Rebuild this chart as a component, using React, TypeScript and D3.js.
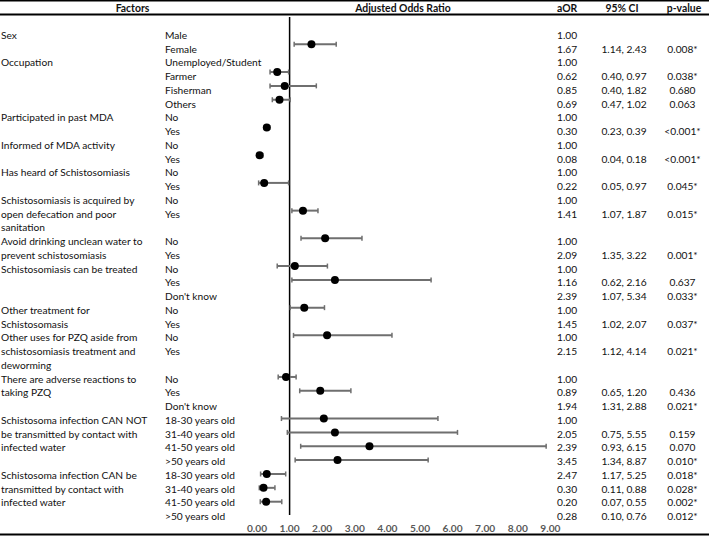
import React from "react";
import * as d3 from "d3";

const levels = ["Male","Female","Unemployed/Student","Farmer","Fisherman","Others","No","Yes","No","Yes","No","Yes","No","Yes","","No","Yes","No","Yes","Don't know","No","Yes","No","Yes","","No","Yes","Don't know","18-30 years old","31-40 years old","41-50 years old",">50 years old","18-30 years old","31-40 years old","41-50 years old",">50 years old"];

const factorRows = [0, 2, 6, 8, 10, 12, 13, 14, 15, 16, 17, 20, 21, 22, 23, 24, 25, 26, 28, 29, 30, 32, 33, 34];
const factorTexts = ["Sex","Occupation","Participated in past MDA","Informed of MDA activity","Has heard of Schistosomiasis","Schistosomiasis is acquired by","open defecation and poor","sanitation","Avoid drinking unclean water to","prevent schistosomiasis","Schistosomiasis can be treated","Other treatment for","Schistosomasis","Other uses for PZQ aside from","schistosomiasis treatment and","deworming","There are adverse reactions to","taking PZQ","Schistosoma infection CAN NOT","be transmitted by contact with","infected water","Schistosoma infection CAN be","transmitted by contact with","infected water"];

const aOR = ["1.00","1.67","1.00","0.62","0.85","0.69","1.00","0.30","1.00","0.08","1.00","0.22","1.00","1.41","","1.00","2.09","1.00","1.16","2.39","1.00","1.45","1.00","2.15","","1.00","0.89","1.94","1.00","2.05","2.39","3.45","2.47","0.30","0.20","0.28"];
const ciLow = [null,1.14,null,0.40,0.40,0.47,null,0.23,null,0.04,null,0.05,null,1.07,null,null,1.35,null,0.62,1.07,null,1.02,null,1.12,null,null,0.65,1.31,null,0.75,0.93,1.34,1.17,0.11,0.07,0.10];
const ciHigh = [null,2.43,null,0.97,1.82,1.02,null,0.39,null,0.18,null,0.97,null,1.87,null,null,3.22,null,2.16,5.34,null,2.07,null,4.14,null,null,1.20,2.88,null,5.55,6.15,8.87,5.25,0.88,0.55,0.76];
const pValues = ["","0.008*","","0.038*","0.680","0.063","","<0.001*","","<0.001*","","0.045*","","0.015*","","","0.001*","","0.637","0.033*","","0.037*","","0.021*","","","0.436","0.021*","","0.159","0.070","0.010*","0.018*","0.028*","0.002*","0.012*"];
const headers = ["Factors", "Adjusted Odds Ratio", "aOR", "95% CI", "p-value"];
const xTicks = [0, 1, 2, 3, 4, 5, 6, 7, 8, 9];
const refValue = 1;
const skippedPlotRows = [0, 14];

const FONT = "Lato, 'Liberation Sans', sans-serif";

export default function App() {
  const W = 709, H = 536;
  const rowY = (i: number) => 34.8 + i * 13.75;
  const x = d3.scaleLinear().domain([0, 9]).range([257, 550.4]);
  const plotRows = d3.range(aOR.length).filter((i) => !skippedPlotRows.includes(i));
  const y = d3.scalePoint<number>().domain(plotRows).range([44.3, 501.7]);
  const fmt = d3.format(".2f");
  const points = d3.range(aOR.length).filter((i) => ciLow[i] != null);

  return (
    <svg width={W} height={H} style={{ position: "absolute", left: 0, top: 0, fontFamily: FONT }}>
      <rect width={W} height={H} fill="#fff" />
      <line x1={0} x2={W} y1={0.75} y2={0.75} stroke="#000" strokeWidth={1.5} />
      <line x1={0} x2={W} y1={14.5} y2={14.5} stroke="#000" strokeWidth={2} />
      <line x1={0} x2={W} y1={534.5} y2={534.5} stroke="#000" strokeWidth={2} />
      <g fontWeight="bold" fontSize={10.4} dominantBaseline="central" fill="#111">
        <text x={132.5} y={8} textAnchor="middle">{headers[0]}</text>
        <text x={403} y={8} textAnchor="middle">{headers[1]}</text>
        <text x={557} y={8}>{headers[2]}</text>
        <text x={622} y={8} textAnchor="middle">{headers[3]}</text>
        <text x={684} y={8} textAnchor="middle">{headers[4]}</text>
      </g>
      <g fontSize={10.2} dominantBaseline="central" fill="#111">
        {factorRows.map((r, i) => (
          <text key={"f" + i} x={1} y={rowY(r)}>{factorTexts[i]}</text>
        ))}
        {levels.map((t, i) => (
          <text key={"l" + i} x={165} y={rowY(i)}>{t}</text>
        ))}
        {aOR.map((t, i) => (
          <text key={"a" + i} x={557} y={rowY(i)}>{t}</text>
        ))}
        {points.map((i) => (
          <text key={"c" + i} x={624} y={rowY(i)} textAnchor="middle">
            {fmt(ciLow[i] as number) + ", " + fmt(ciHigh[i] as number)}
          </text>
        ))}
        {pValues.map((t, i) => (
          <text key={"p" + i} x={682.5} y={rowY(i)} textAnchor="middle">{t}</text>
        ))}
      </g>
      <line x1={x(refValue)} x2={x(refValue)} y1={17} y2={515} stroke="#000" strokeWidth={1.5} />
      <g>
        {points.map((i) => {
          const cy = y(i) as number;
          const x0 = x(ciLow[i] as number), x1 = x(ciHigh[i] as number);
          return (
            <g key={"pt" + i}>
              <line x1={x0} x2={x1} y1={cy} y2={cy} stroke="#6f6f6f" strokeWidth={2} />
              <line x1={x0} x2={x0} y1={cy - 2.5} y2={cy + 2.5} stroke="#6f6f6f" strokeWidth={1.5} />
              <line x1={x1} x2={x1} y1={cy - 2.5} y2={cy + 2.5} stroke="#6f6f6f" strokeWidth={1.5} />
              <circle cx={x(parseFloat(aOR[i]))} cy={cy} r={4} fill="#000" />
            </g>
          );
        })}
      </g>
      <g fontSize={10.2} fontWeight="bold" fill="#595959" textAnchor="middle" dominantBaseline="central">
        {xTicks.map((t) => (
          <text key={"t" + t} x={x(t)} y={527.5}>{fmt(t)}</text>
        ))}
      </g>
    </svg>
  );
}
